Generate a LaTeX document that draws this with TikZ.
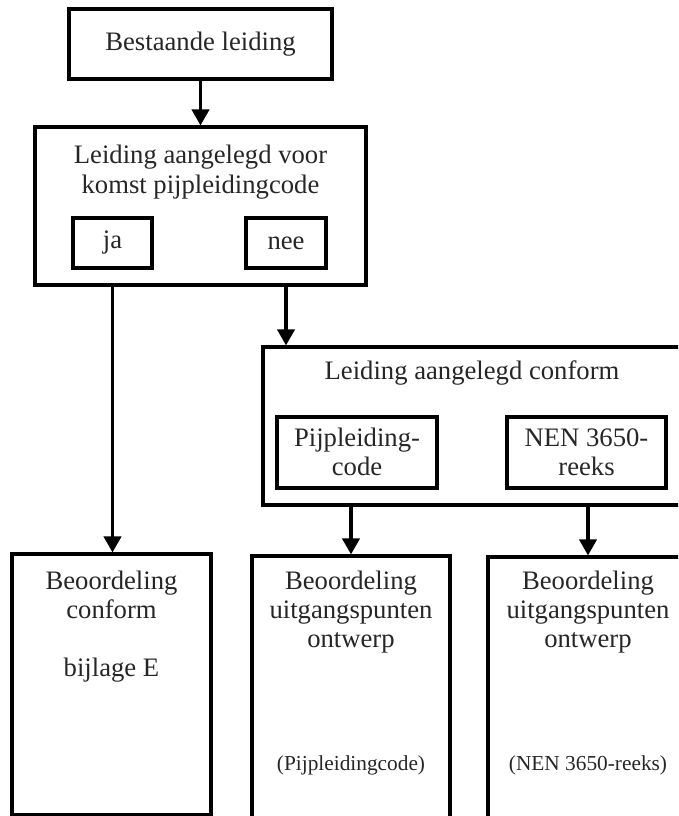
\documentclass[tikz,border=0pt]{standalone}
\usepackage{fontspec}
\setmainfont{Liberation Serif}
\usetikzlibrary{arrows.meta,fit}
\begin{document}
\begin{tikzpicture}[x=0.75pt,y=-0.75pt,
  box/.style={draw=black,line width=2.4pt,inner sep=0pt,fill=none},
  txt/.style={align=center,inner sep=0pt,text=black!85,font=\fontsize{20}{22}\selectfont},
  small/.style={align=center,inner sep=0pt,text=black!85,font=\fontsize{16}{19}\selectfont},
  arr/.style={line width=2.3pt,-{Triangle[width=13pt,length=12pt]}}]
\clip (0,0) rectangle (678,816);
\useasboundingbox (0,0) rectangle (678,816);
% boxes
\node[box,fit={(69,9)(332,79)}] (b1) {};
\node[box,fit={(35,127)(366,285)}] (b2) {};
\node[box,fit={(73,218)(152,268)}] (ja) {};
\node[box,fit={(246,218)(326,268)}] (nee) {};
\node[box,fit={(263,347)(681,505)}] (b3) {};
\node[box,fit={(277,417)(437,488)}] (pc) {};
\node[box,fit={(507,417)(666,488)}] (nen) {};
\node[box,fit={(12,554)(211,815)}] (lb) {};
\node[box,fit={(252,556)(450,840)}] (mb) {};
\node[box,fit={(488,557)(688,840)}] (rb) {};
% texts
\node[txt] (t1) at (200.5,44) {Bestaande leiding};
\node[txt] (t2) at (200.5,172) {Leiding aangelegd voor\\komst pijpleidingcode};
\node[txt] (tja) at (112.5,243) {ja};
\node[txt] (tnee) at (286,243) {nee};
\node[txt] (t3) at (472,373) {Leiding aangelegd conform};
\node[txt] (tpc) at (357,452) {Pijpleiding-\\code};
\node[txt] (tnen) at (586.5,452) {NEN 3650-\\reeks};
\node[txt] (tl1) at (111.5,595) {Beoordeling\\conform};
\node[txt] (tl2) at (111.5,670) {bijlage E};
\node[txt] (tm1) at (351,612) {Beoordeling\\uitgangspunten\\ontwerp};
\node[small] (tm2) at (351,765) {(Pijpleidingcode)};
\node[txt] (tr1) at (588,612) {Beoordeling\\uitgangspunten\\ontwerp};
\node[small] (tr2) at (588,765) {(NEN 3650-reeks)};
% arrows
\draw[arr] (b1.south) -- (b2.north);
\draw[arr] (ja.south |- b2.south) -- (ja.south |- lb.north);
\draw[arr] (nee.south |- b2.south) -- (nee.south |- b3.north);
\draw[arr] (mb.north |- b3.south) -- (mb.north);
\draw[arr] (rb.north |- b3.south) -- (rb.north);
\end{tikzpicture}
\end{document}
